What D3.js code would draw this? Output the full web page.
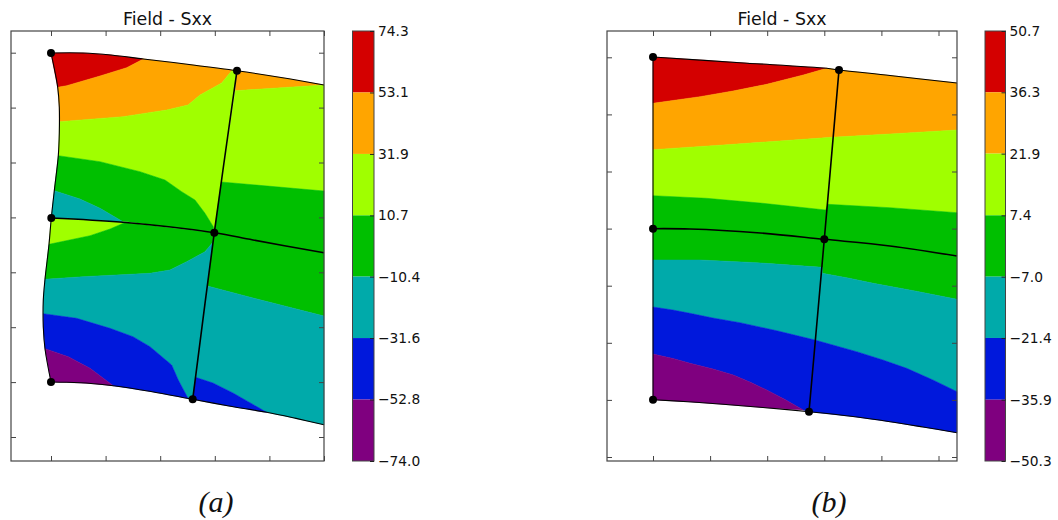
<!DOCTYPE html>
<html>
<head>
<meta charset="utf-8">
<title>Field - Sxx</title>
<script src="https://d3js.org/d3.v7.min.js"></script>
<style>
  body { margin: 0; background: #fff; }
  svg { display: block; }
  .title { font-family: "DejaVu Sans"; font-size: 17.4px; fill: #111; text-anchor: middle; }
  .caption { font-family: "Liberation Serif"; font-style: italic; font-size: 30px; fill: #111; text-anchor: middle; }
  .cbar text { font-family: "DejaVu Sans"; font-size: 13.8px; fill: #111; }
</style>
</head>
<body>
<div id="chart"></div>
<script>
// colour levels, top to bottom of the colour bar
var levelsA = [74.3, 53.1, 31.9, 10.7, -10.4, -31.6, -52.8, -74.0];
var levelsB = [50.7, 36.3, 21.9, 7.4, -7.0, -21.4, -35.9, -50.3];
var bandColors = ["#d40000", "#ffa500", "#a0ff00", "#00bf00", "#00aaaa", "#0018dc", "#7f007f"];

// tick positions of the two plots (the labels are blank in the original)
var xTicksA = [0, 54.6, 109.2, 163.8, 218.4, 273];
var yTicksA = [0, 54.9, 109.8, 164.7, 219.6, 274.5, 329.4, 384.3];
var xTicksB = [0, 57.1, 114.2, 171.3, 228.4, 285.5];
var yTicksB = [0, 57.1, 114.2, 171.3, 228.4, 285.5, 342.6, 399.7];

// --- plot (a): element nodes
var nodesA = [[0, 384], [186, 366.3], [0.3, 219], [163.3, 204.3], [0, 55], [141.7, 37.7]];

// element edges
var topA = [[0, 384], [32, 384], [60, 382], [92.3, 378], [140, 372.3], [186, 366.3], [230, 359.5], [273, 352]];
var leftA = [[0, 384], [6.7, 349.7], [8.3, 330], [8.3, 304], [7.3, 281.3], [3.3, 246.3], [0.3, 219],
             [-2, 192.7], [-6, 157.7], [-7.7, 137], [-7.7, 110], [-6, 88.3], [0, 55]];
var bottomA = [[0, 55], [15.7, 54.7], [40, 53.5], [62.3, 51.3], [100, 45.5], [141.7, 37.7], [178, 31], [215.7, 24.7], [245, 18.6], [273, 12.3]];
var horizA = [[0.3, 219], [72, 214.7], [163.3, 204.3], [202, 197], [273, 184.3]];
var vertA = [[186, 366.3], [163.3, 204.3], [141.7, 37.7]];

// contour lines, left side of the vertical edge
var c1A = [[6.7, 349.7], [15.7, 351.3], [49, 361], [75.7, 369.3], [92.3, 378]];
var c2A = [[8.3, 315.3], [72, 320.3], [115.7, 327], [137, 332], [149, 342], [170.7, 354], [180.7, 366.3]];
var c3A = [[7.3, 281.3], [49, 275.3], [89, 265.3], [114, 257], [130.7, 245.3], [144, 237], [154, 223.7], [162.3, 210.3]];
var c4A = [[3.3, 246.3], [29, 238], [49, 228.7], [70.7, 216]];
var c5A = [[74, 214.5], [59, 208], [39, 201.3], [-2, 192.7]];
var c6A = [[-6, 157.7], [32, 160.3], [99, 163.7], [119, 167], [135.7, 175.3], [154, 185.3], [162.3, 195.3], [163.3, 204.3]];
var c7A = [[-7.7, 123.3], [25.7, 118.7], [59, 108.7], [82, 100.3], [99, 90.3], [120.7, 72], [127.3, 57], [136.7, 39.3]];
var c8A = [[-6, 88.3], [17.3, 80.3], [39, 68.7], [62.3, 51.3]];

// contour lines, right side of the vertical edge
var c9A = [[184.2, 346.3], [273, 352]];
var c10A = [[170.4, 255], [273, 246]];
var c11A = [[156.4, 151], [202, 139], [273, 121]];
var c12A = [[144.6, 59.7], [162, 54], [182, 44], [215.7, 24.7]];

// [colour index, outline] for every filled piece
var piecesA = [
  [0, [[0, 384], [32, 384], [60, 382]].concat(c1A.slice().reverse())],
  [1, c1A.concat([[140, 372.3], [186, 366.3]], c2A.slice().reverse(), [[8.3, 330]])],
  [2, c2A.concat([[186, 366.3], [163.3, 204.3]], c3A.slice().reverse(), [[8.3, 304]])],
  [3, c3A.concat([[163.3, 204.3]], c4A.slice().reverse())],
  [4, c4A.concat([[72, 214.7], [0.3, 219]])],
  [2, [[0.3, 219], [72, 214.7]].concat(c5A)],
  [3, c5A.slice().reverse().concat([[72, 214.7], [163.3, 204.3]], c6A.slice().reverse())],
  [4, c6A.concat([[141.7, 37.7]], c7A.slice().reverse(), [[-7.7, 137]])],
  [5, c7A.concat([[141.7, 37.7], [100, 45.5]], c8A.slice().reverse(), [[-7.7, 110]])],
  [6, c8A.concat([[40, 53.5], [15.7, 54.7], [0, 55]])],
  [1, [[186, 366.3], [230, 359.5], [273, 352], [184.2, 346.3]]],
  [2, c9A.concat([[273, 246], [170.4, 255]])],
  [3, c10A.concat([[273, 121], [202, 139], [156.4, 151], [163.3, 204.3]])],
  [4, c11A.concat([[273, 12.3], [245, 18.6]], c12A.slice().reverse())],
  [5, c12A.concat([[178, 31], [141.7, 37.7]])]
];
var edgesA = [topA, leftA, bottomA];
var gridA = [horizA, vertA];

// --- plot (b): element nodes
var nodesB = [[0, 400], [186, 387], [0, 228.3], [171.3, 217.7], [0, 57.3], [156, 45.3]];

var topB = [[0, 400], [87, 394.3], [173.7, 388.7], [186, 387], [237, 381.5], [304, 374]];
var leftB = [[0, 400], [0, 57.3]];
var bottomB = [[0, 57.3], [35, 55.3], [70, 52.7], [110, 49.5], [156, 45.3], [200, 40.5], [237, 35.3], [270, 30], [304, 24.3]];
var horizB = [[0, 228.3], [37, 228], [104, 224.3], [171.3, 217.7], [237, 211], [304, 201]];
var vertB = [[186, 387], [171.3, 217.7], [156, 45.3]];

var c1B = [[0, 353.7], [47, 360.3], [80, 366], [113.7, 372.7], [150.3, 382], [173.7, 388.7]];
var c2B = [[0, 307.3], [70, 312], [178.7, 319.7], [237, 323], [304, 327]];
var c3B = [[0, 261.3], [53.7, 258.7], [110, 253.7], [172.7, 247], [175, 252.7], [237, 249.3], [304, 244.3]];
var c4B = [[0, 197], [47, 197], [103.7, 194.3], [169.3, 189.7], [169.3, 183.7], [195, 179], [220.3, 173.7], [262, 166], [304, 157.7]];
var c5B = [[0, 150], [20, 147], [37, 143.7], [60, 139], [87, 134.3], [125, 126], [162, 117], [203.7, 105.3], [230, 97], [253.7, 88.7], [280, 77], [304, 65.3]];
var c6B = [[0, 103], [20, 98.5], [37, 93.7], [60, 88], [80.3, 82], [98, 74.5], [113.7, 67], [132, 57.5], [150.3, 47]];

var piecesB = [
  [0, [[0, 400], [87, 394.3]].concat(c1B.slice().reverse())],
  [1, c1B.concat([[186, 387], [237, 381.5], [304, 374]], c2B.slice().reverse())],
  [2, c2B.concat(c3B.slice().reverse())],
  [3, c3B.concat(c4B.slice().reverse())],
  [4, c4B.concat(c5B.slice().reverse())],
  [5, c5B.concat([[304, 24.3], [270, 30], [237, 35.3], [200, 40.5], [156, 45.3]], c6B.slice().reverse())],
  [6, c6B.concat([[110, 49.5], [70, 52.7], [35, 55.3], [0, 57.3]])]
];
var edgesB = [topB, leftB, bottomB];
var gridB = [horizB, vertB];

var svg = d3.select("#chart")
            .append("svg")
            .attr("width", 1058)
            .attr("height", 520);

//draws one contour plot with its frame, ticks, title and caption
function drawPlot(opt) {
  var xScale = d3.scaleLinear().domain(opt.xDomain).range([opt.left, opt.right]);
  var yScale = d3.scaleLinear().domain(opt.yDomain).range([461, 31]);

  var line = d3.line()
               .x(function(d) { return xScale(d[0]); })
               .y(function(d) { return yScale(d[1]); });

  //edges are smooth curves in the original
  var curve = d3.line()
                .curve(d3.curveCatmullRom)
                .x(function(d) { return xScale(d[0]); })
                .y(function(d) { return yScale(d[1]); });

  //filled bands
  svg.append("g")
     .selectAll("path")
     .data(opt.pieces)
     .enter()
     .append("path")
     .attr("d", function(d) { return line(d[1]) + "Z"; })
     .attr("fill", function(d) { return bandColors[d[0]]; })
     .attr("stroke", function(d) { return bandColors[d[0]]; })
     .attr("stroke-width", 0.5);

  //outer edges are thin, element edges heavier
  svg.append("g")
     .selectAll("path")
     .data(opt.edges)
     .enter()
     .append("path")
     .attr("d", curve)
     .attr("fill", "none")
     .attr("stroke", "#000")
     .attr("stroke-width", 1.1);

  svg.append("g")
     .selectAll("path")
     .data(opt.grid)
     .enter()
     .append("path")
     .attr("d", curve)
     .attr("fill", "none")
     .attr("stroke", "#000")
     .attr("stroke-width", 1.6);

  svg.append("g")
     .selectAll("circle")
     .data(opt.nodes)
     .enter()
     .append("circle")
     .attr("cx", function(d) { return xScale(d[0]); })
     .attr("cy", function(d) { return yScale(d[1]); })
     .attr("r", 4)
     .attr("fill", "#000");

  //frame
  svg.append("rect")
     .attr("x", opt.left)
     .attr("y", 31)
     .attr("width", opt.right - opt.left)
     .attr("height", 430)
     .attr("fill", "none")
     .attr("stroke", "#444")
     .attr("stroke-width", 1.2);

  //ticks point inwards on all four sides, no labels
  var axes = [
    [d3.axisBottom(xScale).tickValues(opt.xTicks), 0, 461],
    [d3.axisTop(xScale).tickValues(opt.xTicks), 0, 31],
    [d3.axisLeft(yScale).tickValues(opt.yTicks), opt.left, 0],
    [d3.axisRight(yScale).tickValues(opt.yTicks), opt.right, 0]
  ];
  axes.forEach(function(a) {
    var g = svg.append("g")
       .attr("transform", "translate(" + a[1] + "," + a[2] + ")")
       .call(a[0].tickSize(-5).tickFormat(""));
    g.select(".domain").remove();
    g.selectAll("line").attr("stroke", "#444");
  });

  svg.append("text")
     .attr("class", "title")
     .attr("x", (opt.left + opt.right) / 2 + opt.titleShift)
     .attr("y", 25)
     .text("Field - Sxx");

  svg.append("text")
     .attr("class", "caption")
     .attr("x", opt.captionX)
     .attr("y", 512)
     .text(opt.caption);
}

//draws the stepped colour bar
function drawBar(levels, left, right) {
  var barScale = d3.scaleLinear()
                   .domain([levels[levels.length - 1], levels[0]])
                   .range([461, 31]);

  svg.append("g")
     .selectAll("rect")
     .data(bandColors)
     .enter()
     .append("rect")
     .attr("x", left)
     .attr("width", right - left)
     .attr("y", function(d, i) { return barScale(levels[i]); })
     .attr("height", function(d, i) { return barScale(levels[i + 1]) - barScale(levels[i]); })
     .attr("fill", function(d) { return d; });

  svg.append("rect")
     .attr("x", left)
     .attr("y", 31)
     .attr("width", right - left)
     .attr("height", 430)
     .attr("fill", "none")
     .attr("stroke", "#444")
     .attr("stroke-width", 1);

  var g = svg.append("g")
     .attr("class", "cbar")
     .attr("transform", "translate(" + right + ",0)")
     .call(d3.axisRight(barScale)
             .tickValues(levels)
             .tickSizeInner(-4)
             .tickSizeOuter(0)
             .tickPadding(4)
             .tickFormat(d3.format(".1f")));
  g.select(".domain").remove();
  g.selectAll("line").attr("stroke", "#222");
}

drawPlot({
  left: 11, right: 324,
  xDomain: [-40, 273], yDomain: [-24, 406],
  xTicks: xTicksA, yTicks: yTicksA,
  pieces: piecesA, edges: edgesA, grid: gridA, nodes: nodesA,
  titleShift: 0, caption: "(a)", captionX: 216
});
drawPlot({
  left: 607, right: 957,
  xDomain: [-46, 304], yDomain: [-4, 426],
  xTicks: xTicksB, yTicks: yTicksB,
  pieces: piecesB, edges: edgesB, grid: gridB, nodes: nodesB,
  titleShift: 0, caption: "(b)", captionX: 829
});
drawBar(levelsA, 352.5, 374);
drawBar(levelsB, 985, 1005.5);
</script>
</body>
</html>
